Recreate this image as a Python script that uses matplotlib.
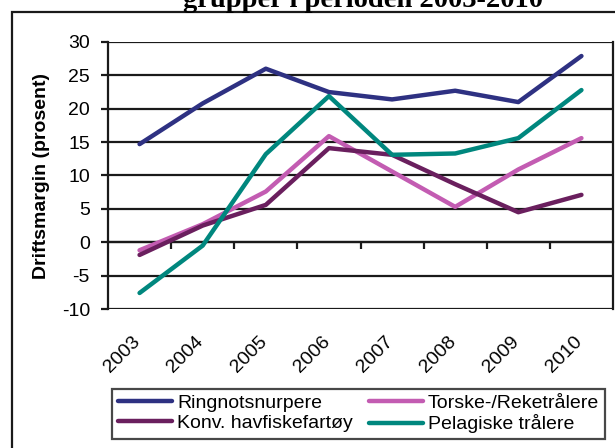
import matplotlib.pyplot as plt
from matplotlib.patches import Rectangle

# data
years = ['2003', '2004', '2005', '2006', '2007', '2008', '2009', '2010']
ringnot = [14.7, 20.8, 26.0, 22.5, 21.4, 22.7, 21.0, 27.9]
torske = [-1.2, 2.7, 7.6, 15.9, 10.6, 5.3, 10.9, 15.6]
konv = [-1.9, 2.5, 5.6, 14.1, 13.1, 8.7, 4.5, 7.1]
pelagisk = [-7.6, -0.5, 13.2, 21.9, 13.1, 13.3, 15.6, 22.8]

series_names = ['Ringnotsnurpere', 'Torske-/Reketrålere', 'Konv. havfiskefartøy', 'Pelagiske trålere']
series_colors = ['#2E3182', '#C35CB2', '#6A1F5E', '#00877E']

plt.rcParams['font.family'] = ['Liberation Sans', 'DejaVu Sans']
plt.rcParams['axes.unicode_minus'] = False

fig = plt.figure(figsize=(6.15, 4.48), dpi=100)
ax = fig.add_axes([108 / 615, (448 - 309) / 448, (613 - 108) / 615, (309 - 42) / 448])

x = list(range(len(years)))
lines = {}
for name, vals, col in zip(series_names, [ringnot, torske, konv, pelagisk], series_colors):
    lines[name], = ax.plot(x, vals, color=col, lw=3.2, solid_capstyle='round', zorder=3)

ax.set_xlim(-0.5, len(years) - 0.5)
ax.set_ylim(-10, 30)
ax.set_yticks(range(-10, 31, 5))
for v in range(-10, 31, 5):
    ax.axhline(v, color='#1a1a1a', lw=1.6, zorder=1)

# x axis crosses at 0, ticks between categories
ax.spines['bottom'].set_position(('data', 0))
ax.spines['top'].set_visible(False)
for s in ['left', 'right', 'bottom']:
    ax.spines[s].set_linewidth(1.6)
    ax.spines[s].set_color('#1a1a1a')
ax.set_xticks([i + 0.5 for i in range(len(years) - 1)])
ax.set_xticklabels([])
ax.tick_params(axis='x', length=5, width=1.6, color='#1a1a1a', direction='out')
ax.tick_params(axis='y', length=5, width=1.6, color='#1a1a1a', pad=8, labelsize=14)

for i, yr in enumerate(years):
    ax.text(i - 0.12, -0.09, yr, transform=ax.get_xaxis_transform(), rotation=45,
            ha='right', va='top', fontsize=14, rotation_mode='anchor')

ax.set_ylabel('Driftsmargin (prosent)', fontsize=14, fontweight='bold')
ax.yaxis.set_label_coords(-58 / 505, 0.5)

order = ['Ringnotsnurpere', 'Konv. havfiskefartøy', 'Torske-/Reketrålere', 'Pelagiske trålere']
leg = ax.legend([lines[n] for n in order], order, ncol=2, loc='center',
                bbox_to_anchor=((107 + 610) / 2 / 615, 1 - (387 + 441) / 2 / 448),
                bbox_transform=fig.transFigure, fontsize=14, frameon=True,
                fancybox=False, edgecolor='#1a1a1a', handlelength=2.8,
                handletextpad=0.25, columnspacing=0.8, borderpad=0.3,
                labelspacing=0.12, borderaxespad=0)
leg.get_frame().set_linewidth(1.6)

# outer chart border (clipped at right and bottom)
fig.patches.append(Rectangle((12 / 615, -0.2), 1.2, 1.2 - 12 / 448,
                             transform=fig.transFigure, fill=False, lw=1.6, ec='#1a1a1a'))

fig.text(363 / 615, 1 - 7 / 448, 'grupper i perioden 2003-2010', ha='center', va='baseline',
         fontsize=20.5, fontweight='bold', family='Liberation Serif')

fig.savefig('out.png', dpi=100)
